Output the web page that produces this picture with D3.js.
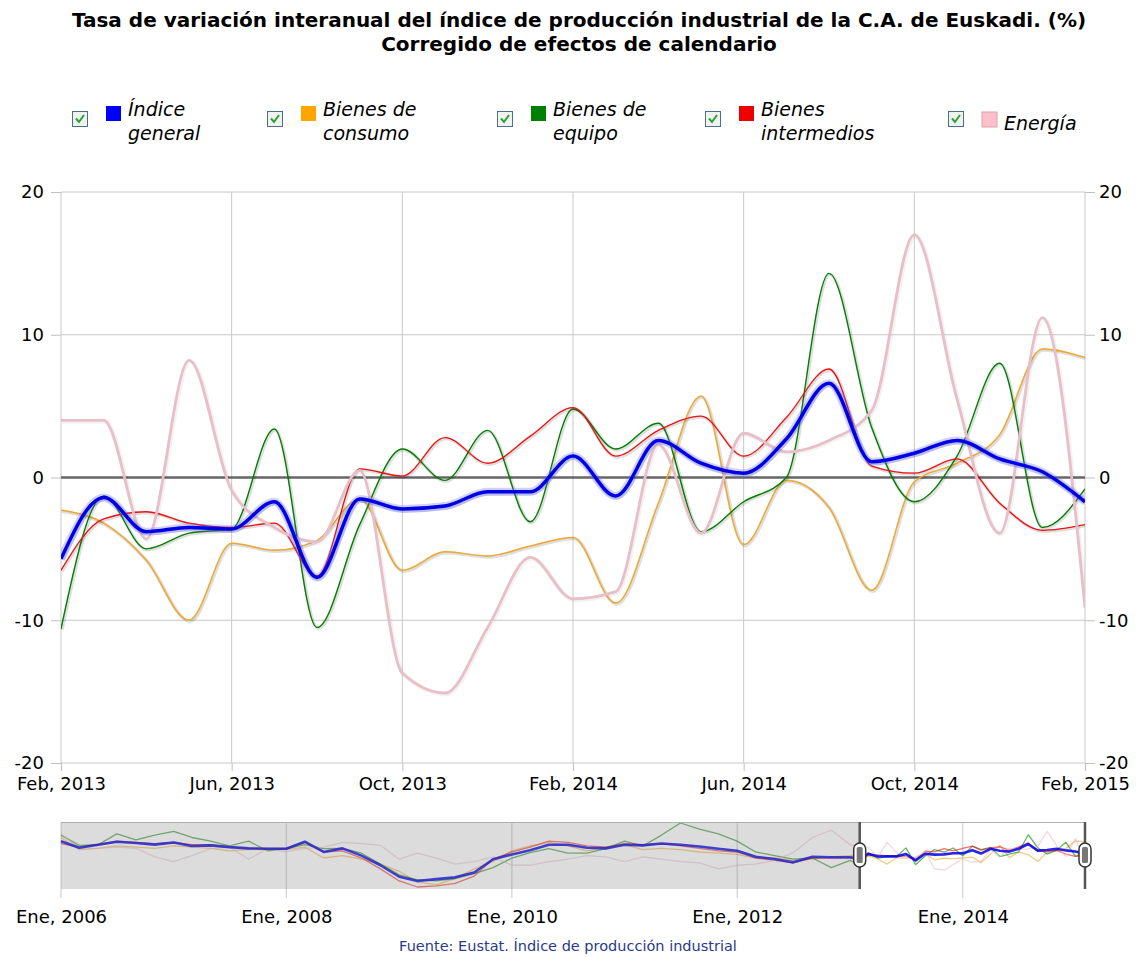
<!DOCTYPE html>
<html lang="es">
<head>
<meta charset="UTF-8">
<title>Tasa de variación interanual del índice de producción industrial</title>
<script src="https://cdnjs.cloudflare.com/ajax/libs/d3/7.8.5/d3.min.js"></script>
<style>
  body { margin: 0; background: #fff; }
  svg text { font-family: "DejaVu Sans", Verdana, sans-serif; fill: #000; }
  .axis path.domain { display: none; }
  .axis line { stroke: #c0c0c0; }
  .axis text { font-size: 18px; fill: #000; }
</style>
</head>
<body>
<svg id="chart" width="1136" height="957"></svg>
<script>
// --- data -----------------------------------------------------------------
const seriesNames = ['Índice general', 'Bienes de consumo', 'Bienes de equipo', 'Bienes intermedios', 'Energía'];
const legendLines = [['Índice', 'general'], ['Bienes de', 'consumo'], ['Bienes de', 'equipo'], ['Bienes', 'intermedios'], ['Energía']];
const seriesColors = ['#0000e6', '#f0a830', '#008000', '#f01010', '#e8bfc8'];
const legendColors = ['#0000ff', '#ffa500', '#008000', '#ee0000', '#ffc0cb'];

// monthly, Feb 2013 .. Feb 2015
const indiceGeneral = [-5.7, -1.4, -3.8, -3.5, -3.6, -1.7, -7.0, -1.5, -2.2, -2.0, -1.0, -1.0, 1.5, -1.3, 2.6, 1.0, 0.3, 2.7, 6.6, 1.1, 1.7, 2.6, 1.3, 0.4, -1.7];
const bienesConsumo = [-2.3, -3.2, -5.8, -10.0, -4.6, -5.1, -4.4, -1.5, -6.5, -5.2, -5.5, -4.8, -4.2, -8.8, -1.8, 5.7, -4.7, -0.2, -2.1, -7.9, -0.3, 1.0, 3.0, 9.0, 8.4];
const bienesEquipo = [-10.6, -1.3, -5.0, -3.9, -3.6, 3.4, -10.5, -3.3, 2.0, -0.2, 3.3, -3.1, 4.8, 2.0, 3.8, -3.8, -1.7, 0.0, 14.3, 3.5, -1.7, 1.5, 8.0, -3.5, -0.8];
const bienesIntermedios = [-6.5, -2.9, -2.4, -3.2, -3.5, -3.2, -6.9, 0.6, 0.1, 2.8, 1.0, 2.9, 4.9, 1.5, 3.3, 4.3, 1.5, 4.2, 7.6, 0.8, 0.3, 1.3, -1.8, -3.7, -3.3];
const energia = [4.0, 4.0, -4.3, 8.2, -0.9, -3.5, -4.5, 0.5, -13.7, -15.1, -10.5, -5.6, -8.5, -8.0, 2.3, -3.9, 3.1, 1.8, 2.6, 4.7, 17.0, 5.5, -3.9, 11.2, -9.1];

// navigator history, every two months, Jan 2006 .. Jan 2013
const navIndiceGeneral = [8.9, 3.5, 6.0, 8.5, 7.5, 6.1, 7.8, 5.0, 5.5, 4.0, 3.0, 2.7, 2.7, 8.5, 0.0, 3.0, -3.0, -11.0, -20.5, -24.0, -22.5, -21.0, -17.0, -6.0, -2.0, 1.5, 6.0, 6.0, 3.5, 3.0, 6.0, 5.5, 7.0, 6.0, 4.5, 2.7, 1.0, -4.0, -5.8, -8.6, -4.0, -4.4, -4.4];
const navBienesConsumo = [12, 2, 3, 5, 4, 3, 5, 4, 3, 1, 2, 2, 2, 4, -5, -3, -6, -10, -16, -25, -27, -22, -14, -8, 1, 5, 8, 5, 1, 4, 6, 2, 3, 2, 0, -1, -2, -5, -5, -7, -6, -4, -3];
const navBienesEquipo = [14, 5.5, 6, 15, 10, 14, 17, 12, 9, 5, 9, 1, 2.7, 6, 2.7, 3, -1, -10, -19, -23, -24, -22, -18, -13, -5, -0.5, 2.7, -1, -1, 2.7, 9, 5, 14, 24, 19, 15, 9, 0, -3, -6, -5, -13, -7];
const navBienesIntermedios = [7, 4, 6, 9, 8, 7, 8, 6, 6, 4, 3, 3, 3, 8, 0, 1, -5, -14, -24, -29, -28, -26, -20, -6, 0, 4, 9, 8, 5, 4, 7, 6, 7, 5, 3, 1, 0, -5, -7, -9, -5, -5, -5];
const navEnergia = [15, 3, 3, 4, 3, -4, -8, -3, 2.7, 4, -6, 2.7, 0, 3, 4, 8, 7, 5.5, -6, -1, -5, -10, -8, -4, -11, -11, -8, -6, -3, -4, -8, -4, -6, -8, -9, -14, -11, -10, -7, -0.5, 12, 18, 6];

const yTicks = [-20, -10, 0, 10, 20];
const mainTickLabels = ['Feb, 2013', 'Jun, 2013', 'Oct, 2013', 'Feb, 2014', 'Jun, 2014', 'Oct, 2014', 'Feb, 2015'];
const navTickLabels = ['Ene, 2006', 'Ene, 2008', 'Ene, 2010', 'Ene, 2012', 'Ene, 2014'];
const titleLines = ['Tasa de variación interanual del índice de producción industrial de la C.A. de Euskadi. (%)', 'Corregido de efectos de calendario'];
const sourceText = 'Fuente: Eustat. Índice de producción industrial';

// --- setup -----------------------------------------------------------------
const mainValues = [indiceGeneral, bienesConsumo, bienesEquipo, bienesIntermedios, energia];
const navValues = [navIndiceGeneral, navBienesConsumo, navBienesEquipo, navBienesIntermedios, navEnergia];

const months = d3.timeMonth.range(new Date(2013, 1, 1), new Date(2015, 2, 1));
const navMonths = d3.timeMonth.range(new Date(2006, 0, 1), new Date(2013, 1, 1), 2);
const navTickDates = d3.timeYear.range(new Date(2006, 0, 1), new Date(2015, 0, 2), 2);
// main axis ticks every four months (month index)
const mainTickIdx = d3.range(0, months.length, 4);

const plot = { left: 61, right: 1085, top: 192, bottom: 763 };
const nav = { top: 822, bottom: 889 };

const svg = d3.select('#chart');

// title
svg.selectAll('text.title')
    .data(titleLines)
    .join('text')
    .attr('class', 'title')
    .attr('x', 579)
    .attr('y', (d, i) => 27 + i * 24)
    .attr('text-anchor', 'middle')
    .style('font-size', '20px')
    .style('font-weight', 'bold')
    .text(d => d);

// legend
const legendX = [72, 267, 497, 705, 948];
const legend = svg.append('g');
legendLines.forEach((lines, i) => {
    const g = legend.append('g').attr('transform', `translate(${legendX[i]},0)`);
    // checkbox
    g.append('rect').attr('x', 0.5).attr('y', 111.5).attr('width', 15).attr('height', 15)
        .attr('fill', '#eef3ef').attr('stroke', '#4d6d8c').attr('stroke-width', 1);
    g.append('path').attr('d', 'M4,118.5 L7,122 L12,115')
        .attr('fill', 'none').attr('stroke', '#2ea02e').attr('stroke-width', 2);
    // colour square
    const sq = lines.length === 1 ? 112 : 106;
    g.append('rect').attr('x', 34).attr('y', sq).attr('width', 15).attr('height', 15)
        .attr('fill', legendColors[i])
        .attr('stroke', i === 4 ? '#d9a3ae' : 'none');
    const t = g.append('text')
        .attr('x', 56)
        .style('font-size', '19px')
        .style('font-style', 'italic');
    if (lines.length === 1) {
        t.attr('y', 130).text(lines[0]);
    } else {
        lines.forEach((l, j) => t.append('tspan').attr('x', 56).attr('y', 116 + j * 24).text(l));
    }
});

// --- main chart --------------------------------------------------------------
const x = d3.scaleLinear().domain([0, months.length - 1]).range([plot.left, plot.right]);
const y = d3.scaleLinear().domain([-20, 20]).range([plot.bottom, plot.top]);

// grid
svg.append('g').selectAll('line')
    .data(mainTickIdx)
    .join('line')
    .attr('x1', d => x(d)).attr('x2', d => x(d))
    .attr('y1', plot.top).attr('y2', plot.bottom)
    .attr('stroke', '#c8c8c8');
svg.append('g').selectAll('line')
    .data(yTicks)
    .join('line')
    .attr('x1', plot.left).attr('x2', plot.right)
    .attr('y1', d => y(d)).attr('y2', d => y(d))
    .attr('stroke', d => d === 0 ? '#666' : '#c8c8c8')
    .attr('stroke-width', d => d === 0 ? 2.5 : 1);

// axes
svg.append('g').attr('class', 'axis')
    .attr('transform', `translate(${plot.left},0)`)
    .call(d3.axisLeft(y).tickValues(yTicks).tickSize(10).tickPadding(7).tickFormat(d => String(d)));
svg.append('g').attr('class', 'axis')
    .attr('transform', `translate(${plot.right},0)`)
    .call(d3.axisRight(y).tickValues(yTicks).tickSize(10).tickPadding(4).tickFormat(d => String(d)));
svg.append('g').attr('class', 'axis')
    .attr('transform', `translate(0,${plot.bottom})`)
    .call(d3.axisBottom(x).tickValues(mainTickIdx).tickSize(8).tickPadding(6)
        .tickFormat((d, i) => mainTickLabels[i]));

svg.append('clipPath').attr('id', 'plotClip')
    .append('rect')
    .attr('x', plot.left).attr('y', plot.top - 5)
    .attr('width', plot.right - plot.left).attr('height', plot.bottom - plot.top + 10);

const line = d3.line()
    .x((d, i) => x(i))
    .y(d => y(d))
    .curve(d3.curveMonotoneX);

const widths = [3.5, 1.5, 1.4, 1.3, 2.8];
const drawOrder = [1, 2, 3, 4, 0];
const lines = svg.append('g').attr('clip-path', 'url(#plotClip)');

drawOrder.forEach(i => {
    // soft shadow under every line
    lines.append('path')
        .attr('d', line(mainValues[i]))
        .attr('fill', 'none')
        .attr('stroke', '#000')
        .attr('stroke-opacity', i === 4 ? 0.05 : 0.13)
        .attr('stroke-width', widths[i] + 2)
        .attr('transform', 'translate(1,1)');
    if (i === 0) {
        lines.append('path')
            .attr('d', line(mainValues[i]))
            .attr('fill', 'none')
            .attr('stroke', '#6a6aff')
            .attr('stroke-opacity', 0.3)
            .attr('stroke-width', 8);
    }
    lines.append('path')
        .attr('d', line(mainValues[i]))
        .attr('fill', 'none')
        .attr('stroke', seriesColors[i])
        .attr('stroke-width', widths[i])
        .attr('stroke-linejoin', 'round');
});

// --- navigator ---------------------------------------------------------------
const navDates = navMonths.concat(months);
const navSeries = navValues.map((h, i) => h.concat(mainValues[i]));
const allNav = navSeries.flat();

const xn = d3.scaleTime().domain([new Date(2006, 0, 1), months[months.length - 1]]).range([plot.left, plot.right]);
const yn = d3.scaleLinear().domain(d3.extent(allNav)).range([nav.bottom - 2, nav.top + 1]);

svg.append('g').selectAll('line')
    .data(navTickDates)
    .join('line')
    .attr('x1', d => xn(d)).attr('x2', d => xn(d))
    .attr('y1', nav.top).attr('y2', nav.bottom + 9)
    .attr('stroke', '#c8c8c8');

const navLine = d3.line()
    .x((d, i) => xn(navDates[i]))
    .y(d => yn(d));

const navG = svg.append('g');
[1, 2, 3, 4, 0].forEach(i => {
    navG.append('path')
        .attr('d', navLine(navSeries[i]))
        .attr('fill', 'none')
        .attr('stroke', seriesColors[i])
        .attr('stroke-opacity', i === 0 ? 0.85 : 0.6)
        .attr('stroke-width', i === 0 ? 2.6 : 1.3)
        .attr('stroke-linejoin', 'round');
});

const selLeft = xn(months[0]);
const selRight = xn(months[months.length - 1]);

// mask outside the selected range
svg.append('rect')
    .attr('x', plot.left).attr('y', nav.top)
    .attr('width', selLeft - plot.left).attr('height', nav.bottom - nav.top)
    .attr('fill', 'rgb(128,128,128)').attr('fill-opacity', 0.28);

// outline
svg.append('line')
    .attr('x1', plot.left).attr('x2', plot.right)
    .attr('y1', nav.top + 0.5).attr('y2', nav.top + 0.5)
    .attr('stroke', '#b0b0b0');
svg.selectAll('line.sel')
    .data([selLeft, selRight])
    .join('line')
    .attr('class', 'sel')
    .attr('x1', d => d).attr('x2', d => d)
    .attr('y1', nav.top).attr('y2', nav.bottom)
    .attr('stroke', '#555').attr('stroke-width', 2.5);

// handles
const handles = svg.selectAll('g.handle')
    .data([selLeft, selRight])
    .join('g')
    .attr('class', 'handle')
    .attr('transform', d => `translate(${d},855)`);
handles.append('rect')
    .attr('x', -6).attr('y', -12).attr('width', 12).attr('height', 24).attr('rx', 6)
    .attr('fill', '#fff').attr('stroke', '#333').attr('stroke-width', 1.5);
handles.append('rect')
    .attr('x', -3).attr('y', -8).attr('width', 6).attr('height', 16).attr('rx', 1.5)
    .attr('fill', '#777');

// navigator labels
svg.append('g').attr('class', 'axis')
    .attr('transform', `translate(0,${nav.bottom + 9})`)
    .call(d3.axisBottom(xn).tickValues(navTickDates).tickSize(0).tickPadding(12)
        .tickFormat((d, i) => navTickLabels[i]));

// source
svg.append('text')
    .attr('x', 568)
    .attr('y', 951)
    .attr('text-anchor', 'middle')
    .style('font-size', '14.5px')
    .style('fill', '#2a3a8a')
    .text(sourceText);
</script>
</body>
</html>
